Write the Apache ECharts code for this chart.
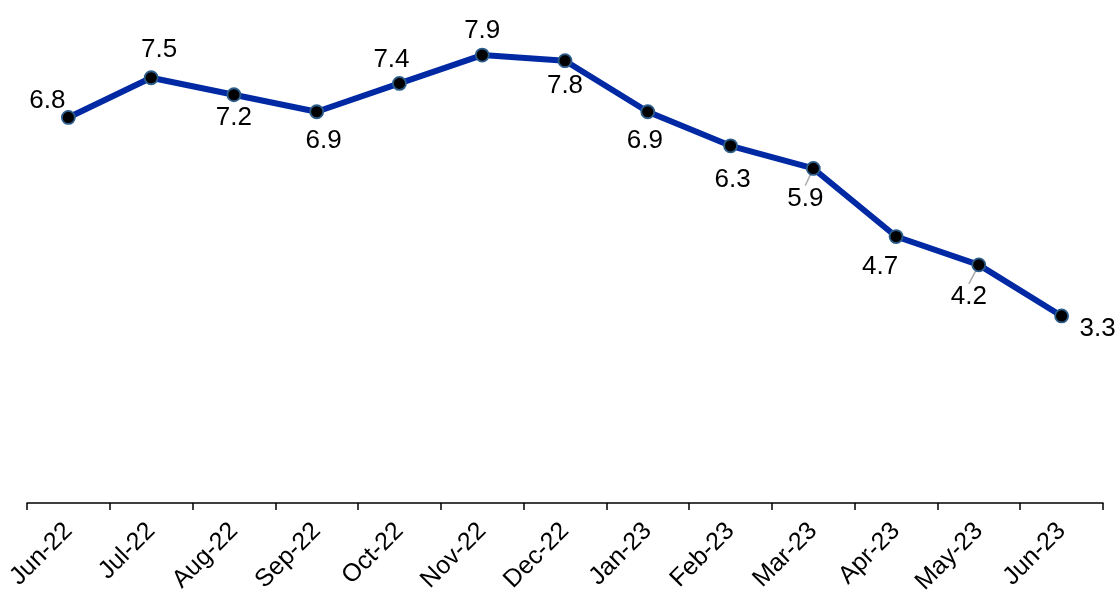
<!DOCTYPE html>
<html>
<head>
<meta charset="utf-8">
<script src="https://cdn.jsdelivr.net/npm/echarts@6/dist/echarts.min.js"></script>
<style>
  html, body { margin: 0; padding: 0; background: #fff; }
  #chart { width: 1120px; height: 597px; }
</style>
</head>
<body>
<div id="chart"></div>
<script>
// 月份
const months = ['Jun-22', 'Jul-22', 'Aug-22', 'Sep-22', 'Oct-22', 'Nov-22', 'Dec-22',
  'Jan-23', 'Feb-23', 'Mar-23', 'Apr-23', 'May-23', 'Jun-23']
// 数值
const values = [6.8, 7.5, 7.2, 6.9, 7.4, 7.9, 7.8, 6.9, 6.3, 5.9, 4.7, 4.2, 3.3]

// 标签偏移 (相对数据点)
const labelOffsets = [[-21, -17], [8, -28], [0, 23], [7, 29], [-8, -24], [0, -24], [0, 25],
  [-3, 29], [2, 34], [-8, 30], [-16, 30], [-10, 32], [36, 13]]
const leaderIdx = [9, 11]

const myChart = echarts.init(document.getElementById('chart'))
const option = {
  animation: false,
  grid: {
    left: 27,
    right: 17,
    top: 4,
    bottom: 92
  },
  xAxis: {
    type: 'category',
    data: months,
    boundaryGap: true,
    axisLine: {
      lineStyle: { color: '#000', width: 1.5 }
    },
    axisTick: {
      show: true,
      alignWithLabel: false,
      length: 7,
      lineStyle: { color: '#000', width: 1.5 }
    },
    axisLabel: {
      rotate: 45,
      interval: 0,
      margin: 24,
      color: '#000',
      fontSize: 25,
      fontFamily: 'Liberation Sans, Arial, sans-serif'
    }
  },
  yAxis: {
    type: 'value',
    min: 0,
    max: 8.8,
    show: false
  },
  series: [{
    type: 'line',
    data: values.map((v, i) => ({
      value: v,
      label: {
        offset: labelOffsets[i]
      },
      labelLine: leaderIdx.includes(i) ? { show: true } : { show: false }
    })),
    symbol: 'circle',
    symbolSize: 13,
    lineStyle: { color: '#0029A3', width: 6 },
    itemStyle: { color: '#000', borderColor: '#2B5C8A', borderWidth: 1.8 },
    label: {
      show: true,
      position: 'inside',
      align: 'center',
      verticalAlign: 'middle',
      color: '#000',
      fontSize: 26,
      fontFamily: 'Liberation Sans, Arial, sans-serif'
    },
    labelLine: {
      lineStyle: { color: '#aaaaaa', width: 1.5 }
    }
  }]
}
myChart.setOption(option)
</script>
</body>
</html>
